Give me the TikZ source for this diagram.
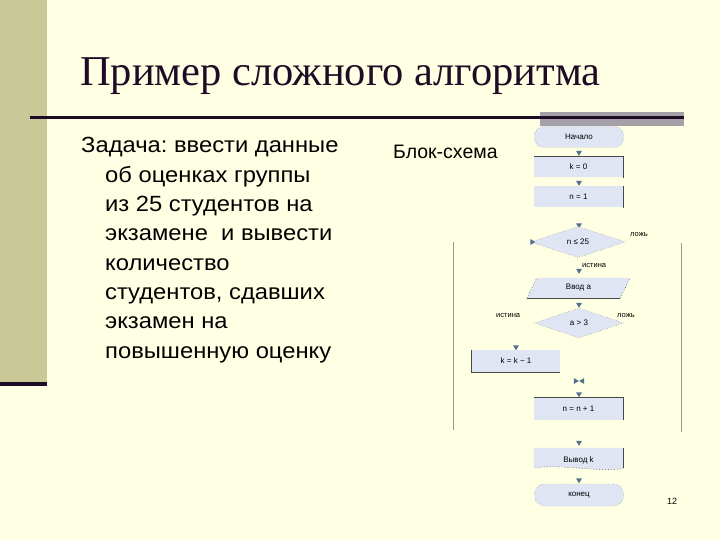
\documentclass[tikz,border=0pt]{standalone}
\usepackage{fontspec}
\setmainfont{Liberation Sans}
\newfontfamily\titlefont{Liberation Serif}
\usetikzlibrary{shapes.geometric}
\frenchspacing
\definecolor{bgc}{HTML}{FFFFE3}
\definecolor{olive}{HTML}{C9C998}
\definecolor{darkl}{HTML}{1E0C26}
\definecolor{greybar}{HTML}{A59FA8}
\definecolor{boxfill}{HTML}{DFE5F3}
\definecolor{arrowc}{HTML}{53708F}
\definecolor{edgec}{HTML}{5A5A5A}
\newcommand{\widetxt}[1]{\scalebox{1.08}[1]{#1}}
\tikzset{
  bodytext/.style={anchor=base west, inner sep=0pt, font=\fontsize{22}{22}\selectfont},
  lbl/.style={inner sep=0pt, font=\fontsize{7.5}{8}\selectfont},
  box/.style={fill=boxfill, inner sep=0pt, minimum width=89pt, minimum height=21pt, font=\fontsize{8}{9}\selectfont},
  term/.style={box, rounded corners=9pt, draw=edgec, dotted, thin},
  dec/.style={diamond, fill=boxfill, draw=edgec, dotted, thin, inner sep=0pt, font=\fontsize{8}{9}\selectfont},
  ah/.style={isosceles triangle, isosceles triangle stretches, fill=arrowc, inner sep=0pt, minimum width=6pt, minimum height=5pt, shape border rotate=270},
  vline/.style={draw=gray!80, line width=1pt},
  edge/.style={draw=edgec!80!black, line width=0.9pt}
}
\begin{document}
\begin{tikzpicture}[x=1pt,y=-1pt]
\fill[bgc] (0,0) rectangle (720,540);
\useasboundingbox (0,0) rectangle (720,540);
% left olive bar
\fill[olive] (0,0) rectangle (47,382);
\fill[darkl] (0,382) rectangle (47,386);
% title
\node[anchor=base west, inner sep=0pt, text=darkl, font=\titlefont\fontsize{42.5}{42.5}\selectfont] (title) at (80,86) {Пример сложного алгоритма};
% grey bar and line
\fill[greybar] (540,112) rectangle (684,126);
\fill[darkl] (30,116) rectangle (684,119);
% left text
\node[bodytext] (t1) at (81,153) {\widetxt{Задача: ввести данные}};
\node[bodytext] (t2) at (105,182.3) {\widetxt{об оценках группы}};
\node[bodytext] (t3) at (105,211.6) {\widetxt{из 25 студентов на}};
\node[bodytext] (t4) at (105,240.9) {\widetxt{экзамене\ \ и вывести}};
\node[bodytext] (t5) at (105,270.2) {\widetxt{количество}};
\node[bodytext] (t6) at (105,299.5) {\widetxt{студентов, сдавших}};
\node[bodytext] (t7) at (105,328.8) {\widetxt{экзамен на}};
\node[bodytext] (t8) at (105,358.1) {\widetxt{повышенную оценку}};
\node[bodytext, font=\fontsize{19.5}{20}\selectfont] (bs) at (393,159) {Блок-схема};
% side lines
\draw[vline] (453,242) coordinate (la) -- (453,430) coordinate (lb);
\draw[vline] (681,243) coordinate (ra) -- (681,432) coordinate (rb);
% flowchart
\node[term] (start) at (579,137) {Начало};
\node[ah] (a1) at (579,152.5) {};
\node[box] (k0) at (578.5,167) {k = 0};
\draw[edge] (k0.north west) -- (k0.north east) -- (k0.south east);
\node[ah] (a2) at (579,182.5) {};
\node[box] (n1) at (578.5,197) {n = 1};
\draw[edge] (n1.north east) -- (n1.south east);
\node[ah] (a3) at (579,225) {};
\node[dec, minimum width=95pt, minimum height=31pt] (d1) at (578,242) {n ≤ 25};
\node[ah, shape border rotate=0] (a4) at (532,242) {};
\node[lbl, anchor=west] (f1) at (630,235) {ложь};
\node[lbl, anchor=west] (t1l) at (582,265.5) {истина};
\node[ah] (a5) at (579,270.5) {};
\node[inner sep=0pt, minimum width=93pt, minimum height=20pt] (inp) at (578.5,288) {};
\fill[boxfill] ([xshift=5pt]inp.north west) -- ([xshift=5pt]inp.north east) -- ([xshift=-5pt]inp.south east) -- ([xshift=-5pt]inp.south west) -- cycle;
\draw[edge] ([xshift=-5pt]inp.south west) -- ([xshift=-5pt]inp.south east);
\draw[edge, dotted, thin] ([xshift=-5pt]inp.south west) -- ([xshift=5pt]inp.north west);
\draw[edge, dotted, thin] ([xshift=-5pt]inp.south east) -- ([xshift=5pt]inp.north east);
\node[inner sep=0pt, font=\fontsize{8}{9}\selectfont] (inpt) at (inp) {Ввод a};
\node[ah] (a6) at (579,304.5) {};
\node[dec, minimum width=89pt, minimum height=30pt] (d2) at (579,323) {a > 3};
\node[lbl, anchor=west] (t2l) at (496,315.5) {истина};
\node[lbl, anchor=west] (f2) at (617,315.5) {ложь};
\node[ah] (a7) at (516,347) {};
\node[box, minimum width=88pt, minimum height=22pt] (kk) at (516,361) {k = k − 1};
\draw[edge] (kk.north west) -- (kk.south west) -- (kk.south east);
\node[ah, shape border rotate=0] (b1) at (575.5,381) {};
\node[ah, shape border rotate=180] (b2) at (582.5,381) {};
\node[ah] (a8) at (579,394) {};
\node[box, minimum height=22pt] (nn) at (578.5,409) {n = n + 1};
\draw[edge] (nn.north west) -- (nn.north east) -- (nn.south east);
\node[ah] (a9) at (579,442.5) {};
\node[inner sep=0pt, minimum width=89pt, minimum height=20pt] (out) at (578.5,458) {};
\fill[boxfill] (out.north west) -- (out.north east) -- (out.south east)
  .. controls ([xshift=-20pt,yshift=-5pt]out.south east) and ([xshift=25pt,yshift=5pt]out.south west) .. (out.south west) -- cycle;
\draw[edge, dotted, thin] (out.south east)
  .. controls ([xshift=-20pt,yshift=-5pt]out.south east) and ([xshift=25pt,yshift=5pt]out.south west) .. (out.south west);
\draw[edge] (out.north east) -- (out.south east);
\node[inner sep=0pt, font=\fontsize{8}{9}\selectfont] (outt) at ([yshift=-2pt]out.center) {Вывод k};
\node[ah] (a10) at (579,480) {};
\node[term, minimum height=22pt, rounded corners=10pt] (stop) at (579,495) {конец};
% page number
\node[inner sep=0pt, font=\fontsize{9}{10}\selectfont] (pg) at (672,501) {12};
\end{tikzpicture}
\end{document}
